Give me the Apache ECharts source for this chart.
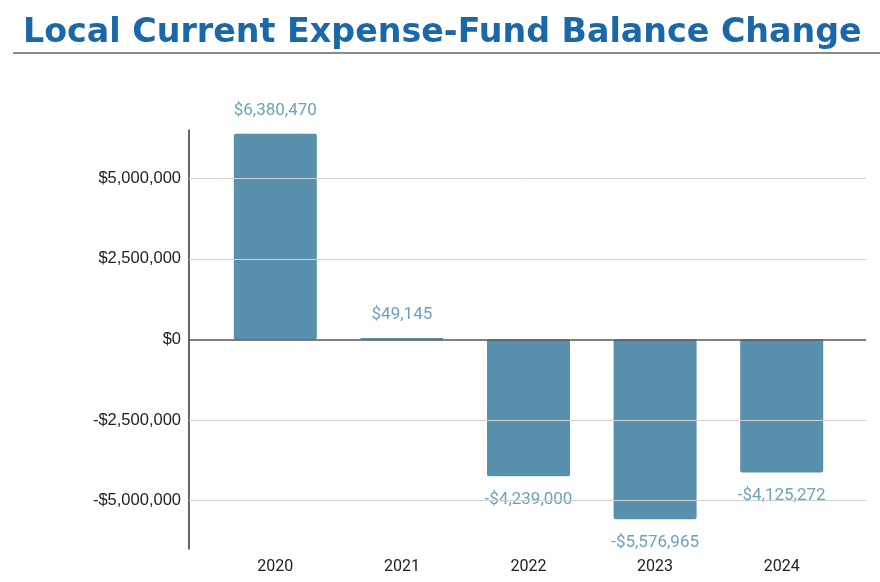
<!DOCTYPE html>
<html>
<head>
<meta charset="utf-8">
<script src="https://cdn.jsdelivr.net/npm/echarts@6/dist/echarts.min.js"></script>
<style>
html, body { margin: 0; padding: 0; background: #fff; }
#echartsMain { width: 880px; height: 582px; }
</style>
</head>
<body>
<div id="echartsMain"></div>
<script>
var years = ['2020', '2021', '2022', '2023', '2024'];
var balanceChange = [6380470, 49145, -4239000, -5576965, -4125272];
var gridValues = [-5000000, -2500000, 2500000, 5000000];

var myChart = echarts.init(document.getElementById('echartsMain'));

function money(v) {
	var s = '$' + Math.abs(v).toLocaleString('en-US');
	return v < 0 ? '-' + s : s;
}

//每根柱子的标签位置：正数在上，负数在下
var barData = balanceChange.map(function (v) {
	return { value: v, label: { position: v < 0 ? 'bottom' : 'top' } };
});

var option = {
	animation: false,
	title: {
		text: 'Local Current Expense-Fund Balance Change',
		left: 18,
		top: 12,
		textStyle: {
			fontFamily: 'DejaVu Sans',
			fontWeight: 'bold',
			fontSize: 33.3,
			color: '#1a67aa'
		}
	},
	graphic: [{
		type: 'line',
		shape: { x1: 13, y1: 53, x2: 880, y2: 53 },
		style: { stroke: '#8a8a8a', lineWidth: 2 }
	}],
	//grid 0: 轴线和网格线；grid 1: 柱子
	grid: [
		{ left: 189, right: 14, top: 130, bottom: 33 },
		{ left: 212, right: 35, top: 130, bottom: 33 }
	],
	xAxis: [{
		gridIndex: 0,
		type: 'value',
		min: 0,
		max: 1,
		show: false
	}, {
		gridIndex: 1,
		type: 'category',
		data: years,
		axisLine: { show: false, onZero: false },
		axisTick: { show: false },
		axisLabel: { color: '#222', fontSize: 16, fontFamily: 'Roboto', margin: 10 }
	}],
	yAxis: [{
		gridIndex: 0,
		type: 'value',
		min: -6500000,
		max: 6500000,
		interval: 500000,
		axisLine: { show: true, lineStyle: { color: '#333', width: 1.5 } },
		axisTick: { show: false },
		splitLine: { show: false },
		axisLabel: {
			color: '#222',
			fontSize: 16.5,
			fontFamily: 'Arial',
			margin: 8,
			formatter: function (v) {
				return v % 2500000 === 0 ? money(v) : '';
			}
		}
	}, {
		gridIndex: 1,
		type: 'value',
		min: -6500000,
		max: 6500000,
		show: false
	}],
	series: [{
		//网格线
		type: 'line',
		xAxisIndex: 0,
		yAxisIndex: 0,
		data: [],
		silent: true,
		markLine: {
			symbol: 'none',
			silent: true,
			label: { show: false },
			data: gridValues.map(function (v) {
				return { yAxis: v, lineStyle: { color: '#d0d0d0', width: 1, type: 'solid' } };
			}).concat([{ yAxis: 0, lineStyle: { color: '#555', width: 1.5, type: 'solid' } }])
		}
	}, {
		name: 'Balance Change',
		type: 'bar',
		xAxisIndex: 1,
		yAxisIndex: 1,
		barWidth: 83,
		z: 3,
		itemStyle: { color: '#5890ae', borderRadius: 2 },
		label: {
			show: true,
			distance: 15,
			color: '#6aa2c0',
			fontSize: 17,
			fontFamily: 'Roboto',
			formatter: function (p) { return money(p.value); }
		},
		data: barData
	}]
};

myChart.setOption(option);
</script>
</body>
</html>
